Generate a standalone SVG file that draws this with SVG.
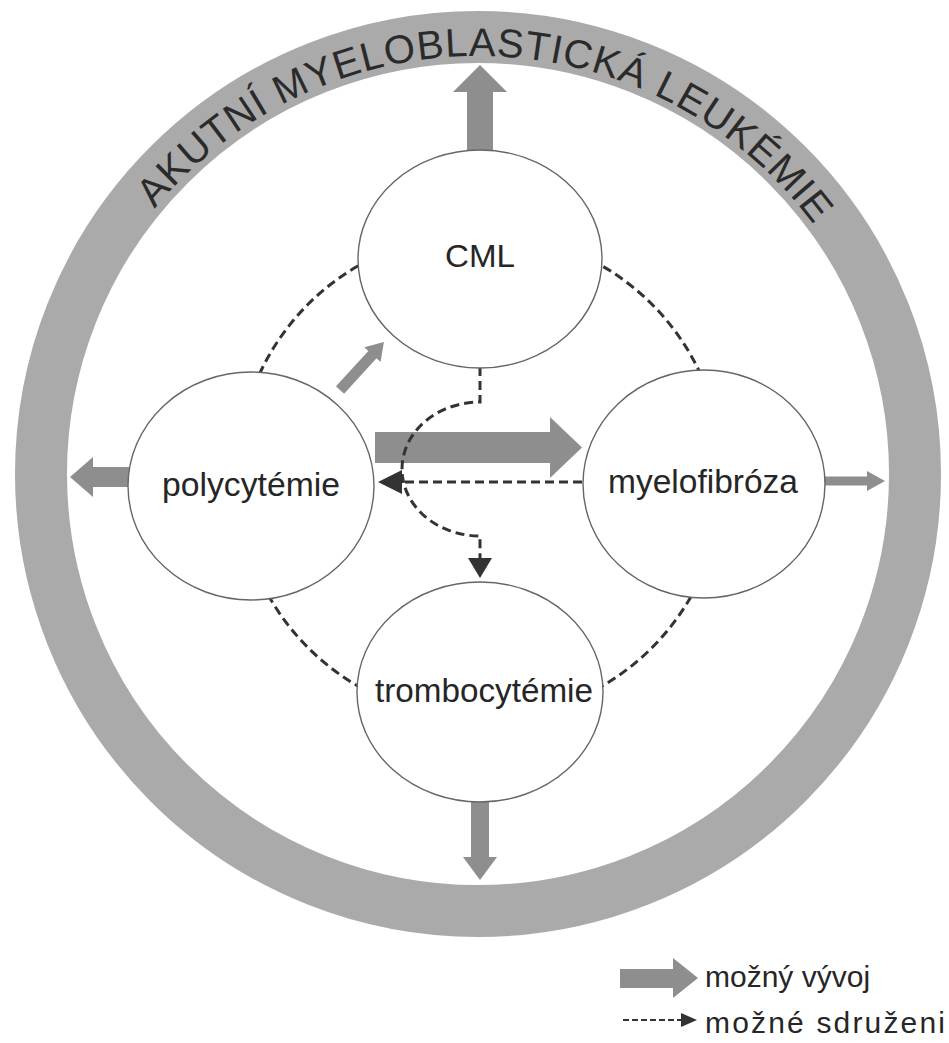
<svg xmlns="http://www.w3.org/2000/svg" width="949" height="1043" viewBox="0 0 949 1043">
<style>
.lbl{font-family:"Liberation Sans",Arial,sans-serif;fill:#262626;text-anchor:middle}
.leg{font-family:"Liberation Sans",Arial,sans-serif;fill:#262626;font-size:30px}
.node{fill:#ffffff;stroke:#666666;stroke-width:1.4}
.thick{fill:#8e8e8e}
.dash{fill:none;stroke:#333333;stroke-width:3;stroke-dasharray:9 5}
.head{fill:#333333}
</style>
<defs>
<path id="arc" d="M 60 474 A 418 418 0 0 1 896 474"/>
</defs>
<rect width="949" height="1043" fill="#ffffff"/>
<g id="ring">
<circle cx="478" cy="474" r="437" fill="none" stroke="#aaaaaa" stroke-width="52"/>
<text style="font-family:'Liberation Sans',Arial,sans-serif;font-size:40px;fill:#2a2a2a"><textPath href="#arc" startOffset="287" textLength="759" lengthAdjust="spacing">AKUTNÍ MYELOBLASTICKÁ LEUKÉMIE</textPath></text>
</g>
<g id="connectors">
<circle class="dash" cx="480" cy="476" r="243"/>
<polygon class="thick" points="467,160 467,92 453,92 480,65 507,92 493,92 493,160"/>
<polygon class="thick" points="471,790 471,857 463,857 480,880 497,857 489,857 489,790"/>
<polygon class="thick" points="140,467 93,467 93,457 70,477 93,497 93,487 140,487"/>
<polygon class="thick" points="815,476.5 867,476.5 867,471 885,481 867,491 867,485.5 815,485.5"/>
<polygon class="thick" transform="translate(340,390) rotate(-47.5)" points="0,-5.5 48,-5.5 48,-11 65,0 48,11 48,5.5 0,5.5"/>
<polygon class="thick" points="375,432 550,432 550,417 582,447.5 550,478 550,463 375,463"/>
<path class="dash" d="M 582 482 L 400 482"/>
<polygon class="head" points="378,482 402,470 402,494"/>
<path class="dash" d="M 480 367 L 480 402 A 78 67 0 0 0 480 536 L 480 560"/>
<polygon class="head" points="480,578 468,558 492,558"/>
</g>
<g id="node-cml">
<ellipse class="node" cx="480" cy="259" rx="122" ry="109"/>
<text class="lbl" x="480" y="267" font-size="32" textLength="70" lengthAdjust="spacingAndGlyphs">CML</text>
</g>
<g id="node-polycytemie">
<ellipse class="node" cx="251" cy="486" rx="123" ry="114"/>
<text class="lbl" x="251" y="496" font-size="33" textLength="178" lengthAdjust="spacingAndGlyphs">polycytémie</text>
</g>
<g id="node-myelofibroza">
<ellipse class="node" cx="704" cy="484" rx="121" ry="114"/>
<text class="lbl" x="703" y="493" font-size="33" textLength="190" lengthAdjust="spacingAndGlyphs">myelofibróza</text>
</g>
<g id="node-trombocytemie">
<ellipse class="node" cx="480" cy="692" rx="123" ry="110"/>
<text class="lbl" x="484" y="702" font-size="34" textLength="218" lengthAdjust="spacingAndGlyphs">trombocytémie</text>
</g>
<g id="legend">
<polygon class="thick" points="620,969 673,969 673,958 698,978 673,998 673,988 620,988"/>
<text class="leg" x="705" y="987">možný vývoj</text>
<path class="dash" d="M 623 1020 L 683 1020" style="stroke-dasharray:6 3;stroke-width:2"/>
<polygon class="head" points="697,1020 681,1013 681,1027"/>
<text class="leg" x="705" y="1033" textLength="240" lengthAdjust="spacing">možné sdruženi</text>
</g>
</svg>
